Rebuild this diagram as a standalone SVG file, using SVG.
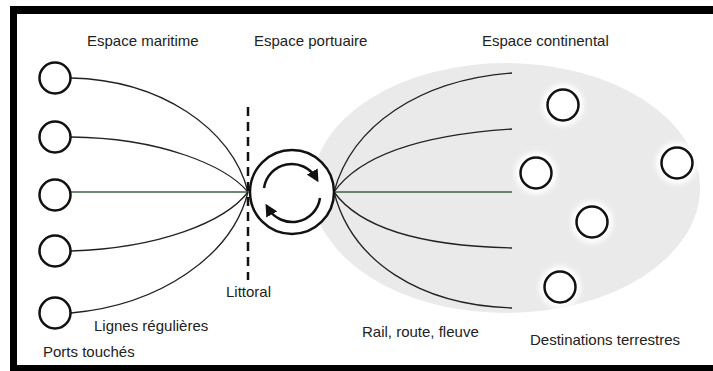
<svg xmlns="http://www.w3.org/2000/svg" width="713" height="371" viewBox="0 0 713 371">
<defs>
<style>
.t{font-family:"Liberation Sans",Arial,sans-serif;font-size:15px;fill:#222}
.c{fill:none;stroke:#111;stroke-width:2.5}
.d{fill:#fff;stroke:#111;stroke-width:2.5}
.l{fill:none;stroke:#222;stroke-width:1.3}
.g{fill:none;stroke:#3f5f3f;stroke-width:1.4}
</style>
<filter id="blur" x="-50%" y="-50%" width="200%" height="200%"><feGaussianBlur stdDeviation="2.5"/></filter>
<marker id="ah" viewBox="0 0 10 10" refX="6" refY="5" markerWidth="5" markerHeight="5" orient="auto"><path d="M0,0 L10,5 L0,10 z" fill="#111"/></marker>
</defs>
<rect width="713" height="371" fill="#fff"/>
<g id="frame" fill="#000">
<rect x="10" y="6" width="703" height="8"/>
<rect x="10" y="6" width="7" height="365"/>
<rect x="10" y="365" width="703" height="6"/>
</g>
<g id="continent">
<ellipse cx="506" cy="188" rx="194" ry="125" fill="#eaeaea"/>
</g>
<g id="connectors">
<path class="l" d="M71,78 C160,80 232,128 248,192"/>
<path class="l" d="M71,137 C160,138 225,165 248,192"/>
<path class="g" d="M71,192 L248,192"/>
<path class="l" d="M71,251 C160,248 225,222 248,192"/>
<path class="l" d="M71,313 C160,305 232,256 248,192"/>
<path class="l" d="M334,192 C352,125 420,80 512,73"/>
<path class="l" d="M334,192 C360,155 420,135 512,129"/>
<path class="g" d="M334,192 L512,192"/>
<path class="l" d="M334,192 C360,228 420,246 512,248"/>
<path class="l" d="M334,192 C352,262 420,305 512,308"/>
</g>
<g id="littoral">
<line x1="248" y1="107" x2="248" y2="280" stroke="#111" stroke-width="2.5" stroke-dasharray="9,6"/>
<text class="t" x="226" y="297">Littoral</text>
</g>
<g id="port">
<circle class="d" cx="292" cy="192" r="42" fill="none"/>
<path class="c" d="M264,188 A28,28 0 0 1 316,178" marker-end="url(#ah)"/>
<path class="c" d="M320,198 A28,28 0 0 1 268,208" marker-end="url(#ah)"/>
</g>
<g id="ports-left">
<circle class="d" cx="55" cy="78" r="15.5"/>
<circle class="d" cx="55" cy="137" r="15.5"/>
<circle class="d" cx="55" cy="195" r="15.5"/>
<circle class="d" cx="55" cy="251" r="15.5"/>
<circle class="d" cx="55" cy="313" r="15.5"/>
</g>
<g id="destinations">
<g fill="#fff" filter="url(#blur)">
<circle cx="563" cy="105" r="21"/>
<circle cx="677" cy="163" r="21"/>
<circle cx="536" cy="173" r="21"/>
<circle cx="592" cy="222" r="21"/>
<circle cx="560" cy="287" r="21"/>
</g>
<circle class="c" cx="563" cy="105" r="15.5"/>
<circle class="c" cx="677" cy="163" r="15.5"/>
<circle class="c" cx="536" cy="173" r="15.5"/>
<circle class="c" cx="592" cy="222" r="15.5"/>
<circle class="c" cx="560" cy="287" r="15.5"/>
</g>
<g id="labels">
<text class="t" x="87" y="46">Espace maritime</text>
<text class="t" x="254" y="46">Espace portuaire</text>
<text class="t" x="482" y="46">Espace continental</text>
<text class="t" x="94" y="331">Lignes régulières</text>
<text class="t" x="43" y="357">Ports touchés</text>
<text class="t" x="362" y="337">Rail, route, fleuve</text>
<text class="t" x="530" y="345">Destinations terrestres</text>
</g>
</svg>
